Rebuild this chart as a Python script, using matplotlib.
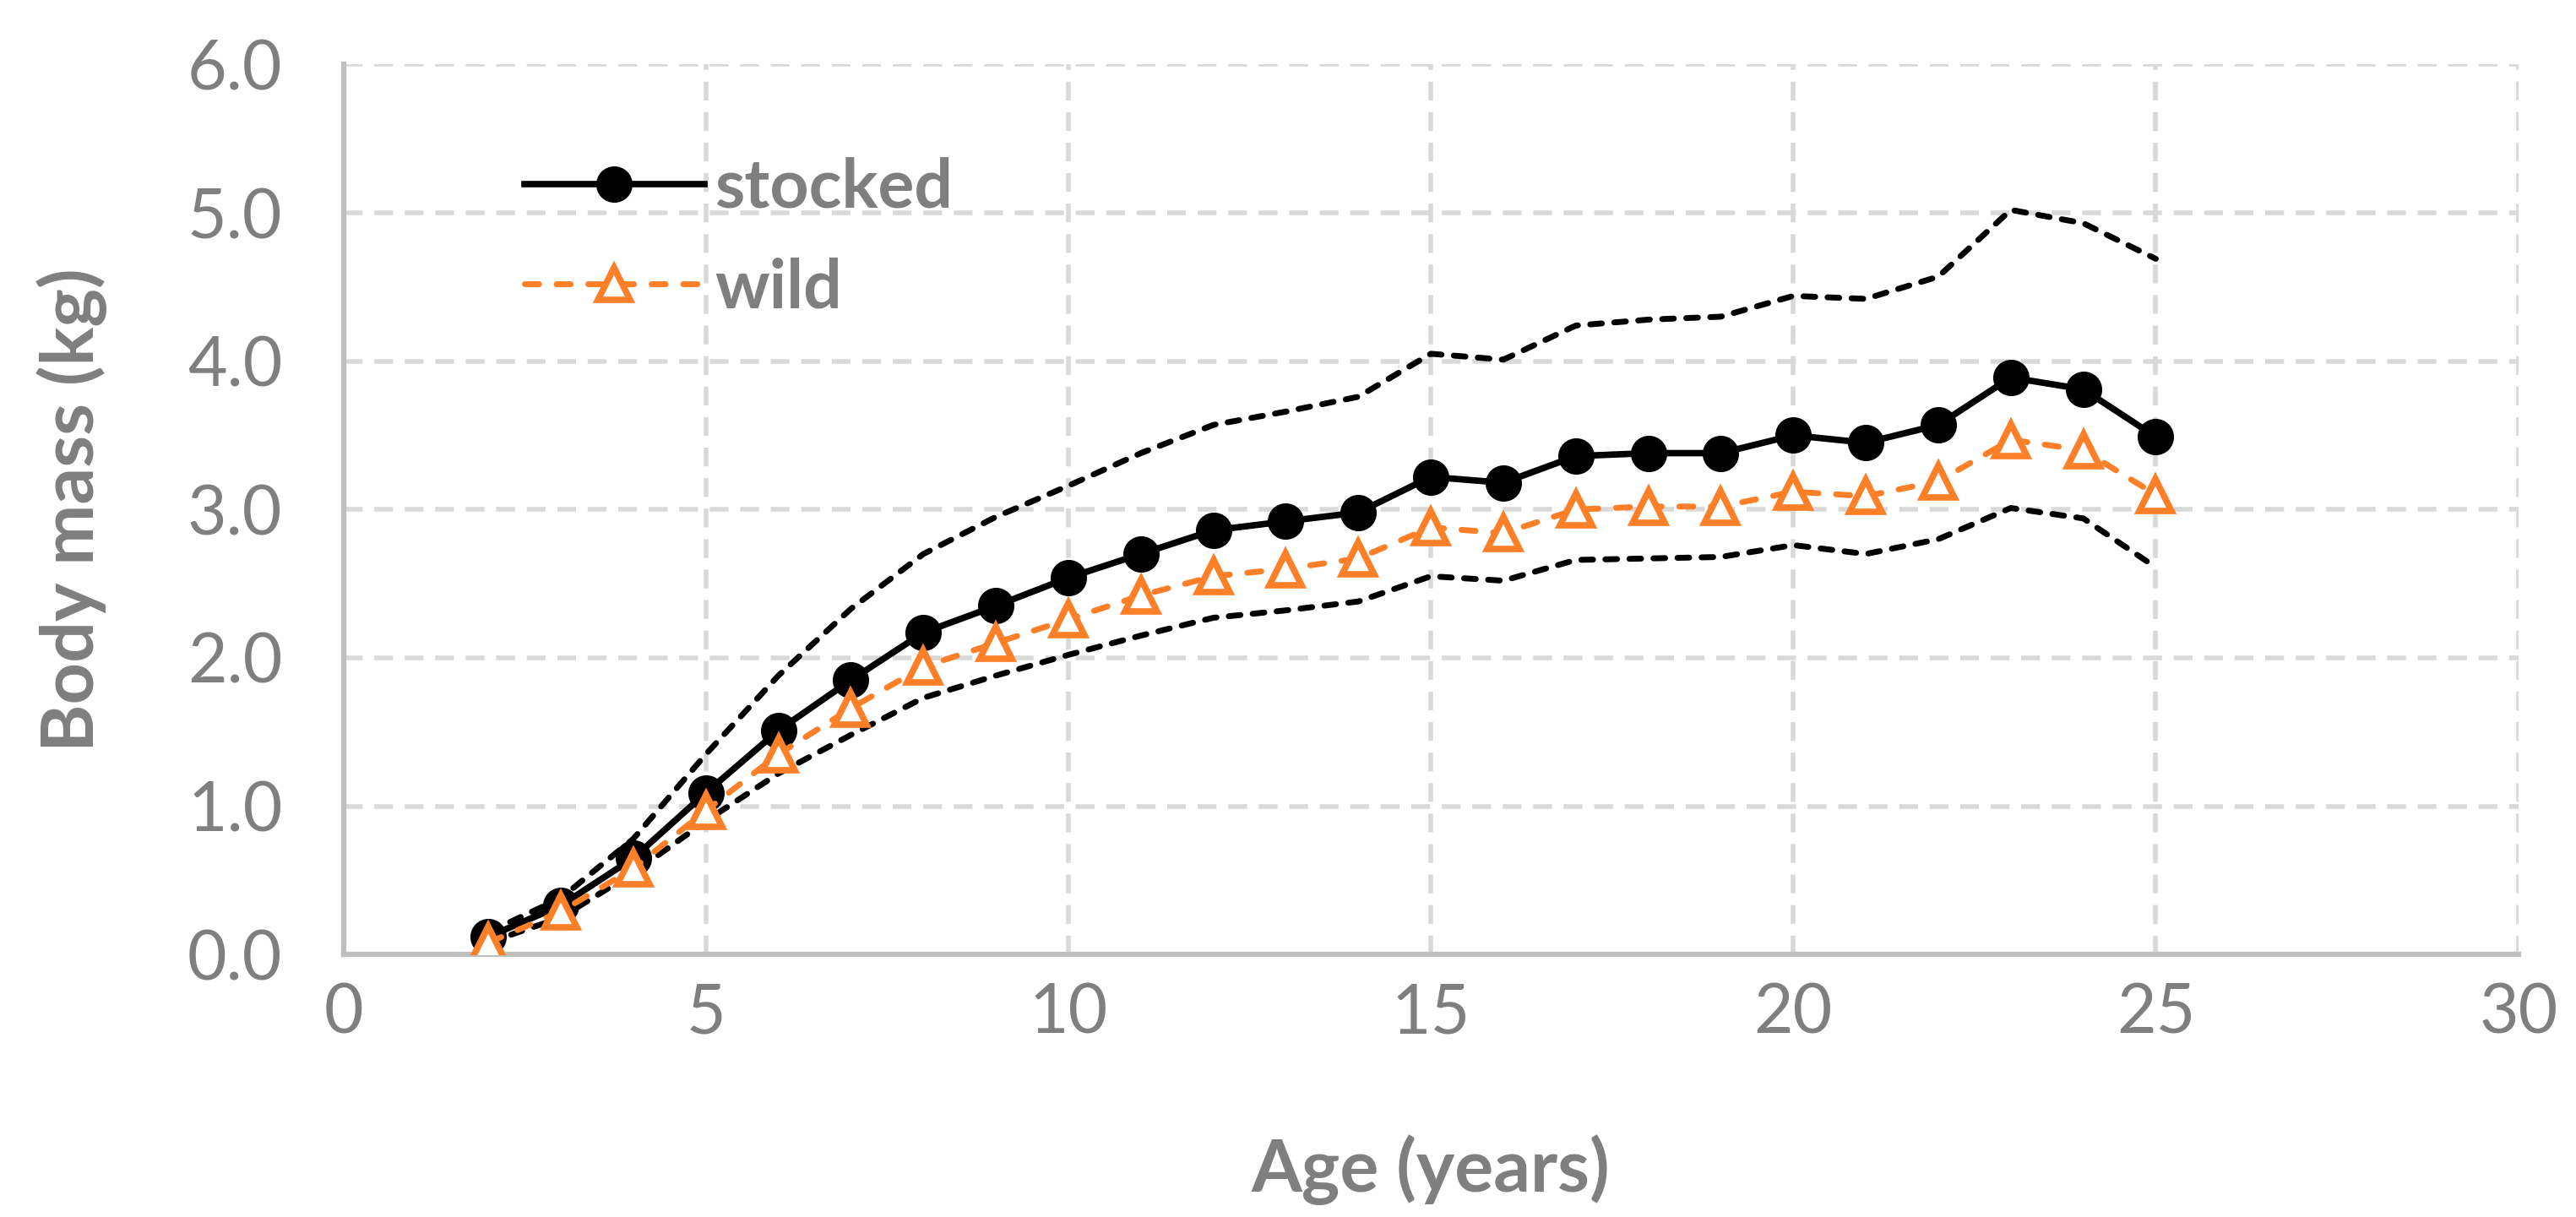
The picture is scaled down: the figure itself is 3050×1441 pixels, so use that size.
import matplotlib
matplotlib.use("Agg")
import matplotlib.pyplot as plt
from matplotlib.lines import Line2D

# ---------------- data ----------------
age = [2, 3, 4, 5, 6, 7, 8, 9, 10, 11, 12, 13, 14, 15, 16, 17, 18, 19, 20, 21, 22, 23, 24, 25]
stocked = [0.12, 0.33, 0.65, 1.09, 1.51, 1.85, 2.17, 2.35, 2.54, 2.70, 2.86, 2.92, 2.98, 3.22,
           3.18, 3.36, 3.38, 3.38, 3.50, 3.45, 3.57, 3.89, 3.81, 3.49]
wild = [0.08, 0.29, 0.58, 0.97, 1.35, 1.66, 1.94, 2.10, 2.26, 2.42, 2.55, 2.60, 2.67, 2.88,
        2.84, 3.00, 3.02, 3.02, 3.12, 3.09, 3.19, 3.47, 3.40, 3.10]
upper = [0.15, 0.38, 0.78, 1.35, 1.88, 2.33, 2.70, 2.95, 3.16, 3.38, 3.57, 3.66, 3.76, 4.05,
         4.01, 4.24, 4.28, 4.30, 4.44, 4.42, 4.57, 5.02, 4.93, 4.69]
lower = [0.08, 0.25, 0.55, 0.90, 1.22, 1.48, 1.73, 1.88, 2.02, 2.15, 2.27, 2.32, 2.38, 2.55,
         2.52, 2.66, 2.67, 2.68, 2.76, 2.70, 2.80, 3.01, 2.94, 2.61]
x_ticks = [0, 5, 10, 15, 20, 25, 30]
y_ticks = [0.0, 1.0, 2.0, 3.0, 4.0, 5.0, 6.0]
series_labels = ["stocked", "wild"]
x_label = "Age (years)"
y_label = "Body mass (kg)"

# ---------------- style ----------------
plt.rcParams['font.family'] = ['Lato', 'DejaVu Sans']
GRAY_TXT = '#7F7F7F'
GRID = '#D9D9D9'
AXIS = '#BFBFBF'
ORANGE = '#FD7F28'

fig = plt.figure(figsize=(30.5, 14.41), dpi=100)
ax = fig.add_axes([0.1333, 0.2157, 0.8443, 0.7313])

ax.set_xlim(0, 30)
ax.set_ylim(0, 6)
ax.set_xticks(x_ticks)
ax.set_yticks(y_ticks)
ax.set_yticklabels([f"{v:.1f}" for v in y_ticks])

ax.grid(True, color=GRID, linestyle=(0, (4, 2.5)), linewidth=4)
ax.set_axisbelow(True)
for s in ['top', 'right']:
    ax.spines[s].set_visible(False)
for s in ['left', 'bottom']:
    ax.spines[s].set_color(AXIS)
    ax.spines[s].set_linewidth(4.5)
ax.tick_params(axis='both', length=0, labelsize=58, colors=GRAY_TXT)
ax.tick_params(axis='y', pad=52)
ax.tick_params(axis='x', pad=24)

# bounds (dashed, no markers)
bound_style = dict(color='black', linewidth=5, linestyle=(0, (2.0, 2.1)),
                   dash_capstyle='round', zorder=3)
ax.plot(age, upper, **bound_style)
ax.plot(age, lower, **bound_style)

# series
stk_style = dict(color='black', linewidth=5.5, marker='o', markersize=30,
                 markerfacecolor='black', markeredgecolor='black')
wld_style = dict(color=ORANGE, linewidth=5, linestyle=(0, (2.4, 3)), marker='^',
                 markersize=28, markerfacecolor='white', markeredgecolor=ORANGE,
                 markeredgewidth=5.5, dash_capstyle='round')
ax.plot(age, stocked, zorder=4, **stk_style)
ax.plot(age, wild, zorder=5, **wld_style)

ax.set_xlabel(x_label, fontsize=62, fontweight='bold', color=GRAY_TXT, labelpad=76)
ax.set_ylabel(y_label, fontsize=62, fontweight='bold', color=GRAY_TXT, labelpad=68)

handles = [Line2D([0], [0], **stk_style), Line2D([0], [0], **wld_style)]
leg = ax.legend(handles, series_labels, loc='upper left', bbox_to_anchor=(0.055, 0.965),
                frameon=False, prop={'size': 58, 'weight': 'bold'}, handlelength=2.65,
                handletextpad=0.15, labelspacing=0.55)
for t in leg.get_texts():
    t.set_color(GRAY_TXT)

fig.savefig("out.png", dpi=100, facecolor='white')
